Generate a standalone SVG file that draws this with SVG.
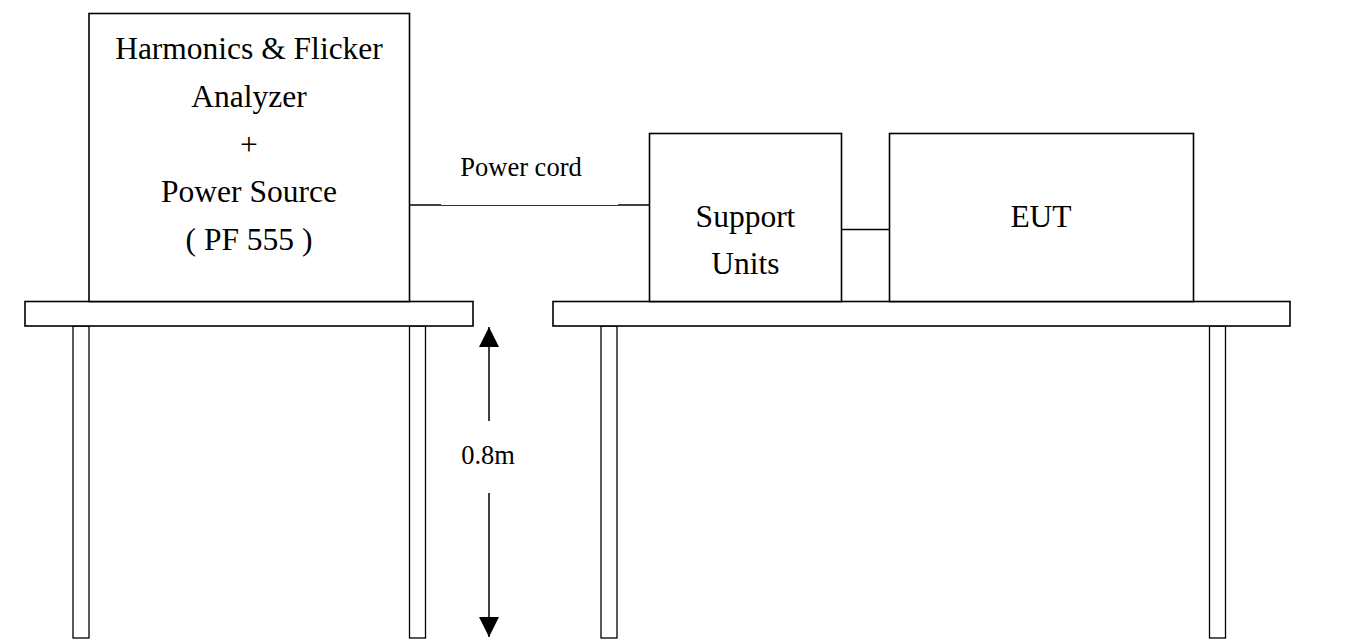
<svg xmlns="http://www.w3.org/2000/svg" width="1359" height="640" viewBox="0 0 1359 640">
<style>
.box{fill:#fff;stroke:#000;stroke-width:1.6}
.leg{fill:#fff;stroke:#000;stroke-width:1.3}
.t{font-family:"Liberation Serif","Times New Roman",serif;fill:#000;text-anchor:middle}
.big{font-size:31.5px}
.small{font-size:26.5px}
.wire{stroke:#000;stroke-width:1.5;fill:none}
.thin{stroke:#333;stroke-width:1;fill:none}
</style>
<defs>
<marker id="ah" viewBox="0 0 20 20" refX="20" refY="10" markerWidth="20" markerHeight="20" markerUnits="userSpaceOnUse" orient="auto">
<path d="M0,0 L20,10 L0,20 Z" fill="#000"/>
</marker>
</defs>
<rect width="1359" height="640" fill="#fff"/>
<g id="left-table">
<rect class="leg" x="73" y="326" width="16" height="312"/>
<rect class="leg" x="409.5" y="326" width="16" height="312"/>
<rect class="box" x="25" y="301.5" width="448" height="24.5"/>
</g>
<g id="right-table">
<rect class="leg" x="601" y="326" width="16" height="312"/>
<rect class="leg" x="1209.5" y="326" width="16" height="312"/>
<rect class="box" x="553" y="301.5" width="737" height="24.5"/>
</g>
<g id="analyzer">
<rect class="box" x="89" y="13.5" width="320.5" height="288"/>
<text class="t big" x="249" y="59">Harmonics &amp; Flicker</text>
<text class="t big" x="249" y="107">Analyzer</text>
<text class="t big" x="249" y="155">+</text>
<text class="t big" x="249" y="202">Power Source</text>
<text class="t big" x="249" y="250">( PF 555 )</text>
</g>
<g id="support-units">
<rect class="box" x="649.5" y="133.5" width="192" height="168"/>
<text class="t big" x="745.5" y="227">Support</text>
<text class="t big" x="745.5" y="274">Units</text>
</g>
<g id="eut">
<rect class="box" x="889.5" y="133.5" width="304" height="168"/>
<text class="t big" x="1041" y="227">EUT</text>
</g>
<g id="connectors">
<line class="wire" x1="409.5" y1="205" x2="441" y2="205"/>
<line class="thin" x1="441" y1="205.5" x2="618" y2="205.5"/>
<line class="wire" x1="618" y1="205" x2="649.5" y2="205"/>
<line class="wire" x1="841.5" y1="229.5" x2="889.5" y2="229.5"/>
<text class="t small" x="521" y="176">Power cord</text>
</g>
<g id="dimension">
<line x1="489" y1="421" x2="489" y2="327" stroke="#000" stroke-width="1.5" marker-end="url(#ah)"/>
<line x1="489" y1="493" x2="489" y2="637" stroke="#000" stroke-width="1.5" marker-end="url(#ah)"/>
<text class="t small" x="488" y="464">0.8m</text>
</g>
</svg>
